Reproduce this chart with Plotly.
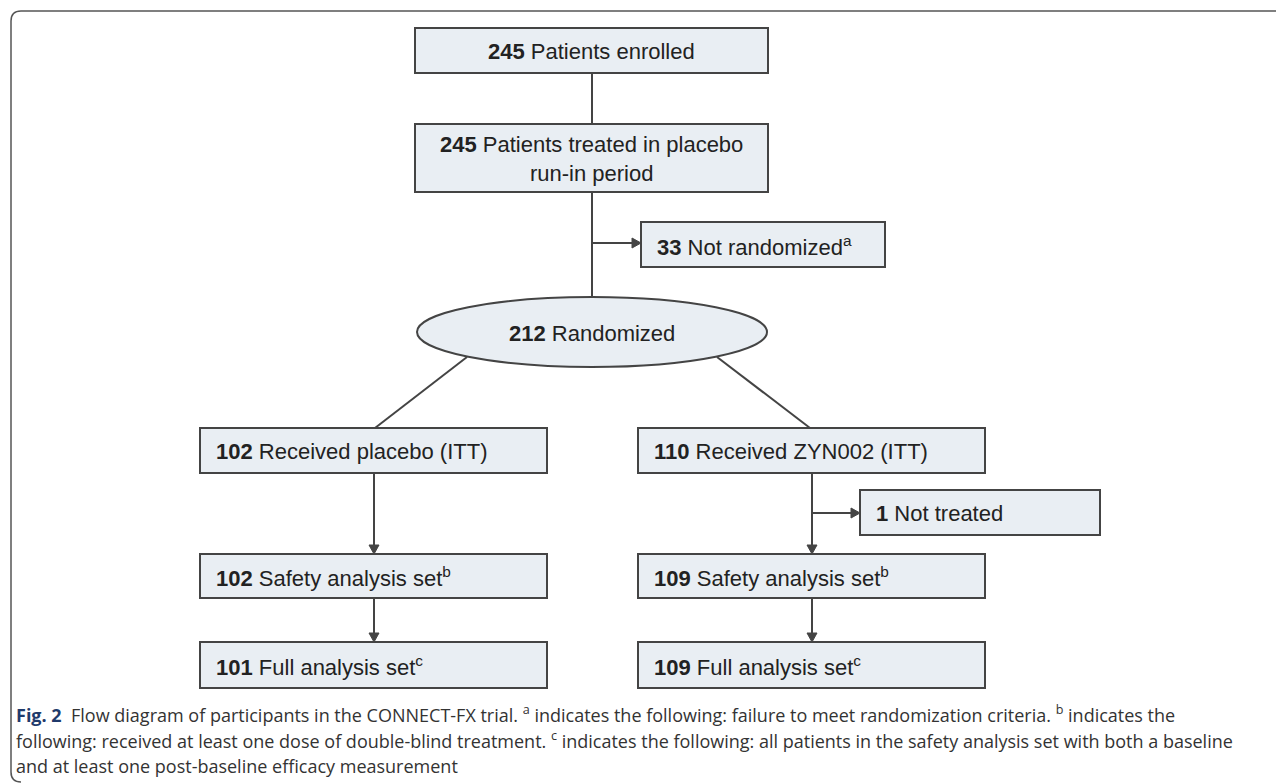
import plotly.graph_objects as go

# ---- data (counts and labels) ----
counts = [245, 245, 33, 212, 102, 110, 1, 102, 109, 101, 109]
labels = ["Patients enrolled",
          "Patients treated in placebo<br>run-in period",
          "Not randomized<sup>a</sup>",
          "Randomized",
          "Received placebo (ITT)",
          "Received ZYN002 (ITT)",
          "Not treated",
          "Safety analysis set<sup>b</sup>",
          "Safety analysis set<sup>b</sup>",
          "Full analysis set<sup>c</sup>",
          "Full analysis set<sup>c</sup>"]
caption_lines = [
    "<b><span style='color:#1f3a6b'>Fig. 2</span></b>  Flow diagram of participants in the CONNECT-FX trial. <sup>a</sup> indicates the following: failure to meet randomization criteria. <sup>b</sup> indicates the",
    "following: received at least one dose of double-blind treatment. <sup>c</sup> indicates the following: all patients in the safety analysis set with both a baseline",
    "and at least one post-baseline efficacy measurement",
]

# ---- layout geometry (page pixel coordinates) ----
# node: (x0, y0, x1, y1, shape, text_align)
nodes = [
    (415, 28, 768, 73, "rect", "center"),
    (415, 124, 768, 192, "rect", "center"),
    (641, 222, 885, 267, "rect", "left"),
    (417, 297, 767, 367, "ellipse", "center"),
    (200, 428, 547, 473, "rect", "left"),
    (638, 428, 985, 473, "rect", "left"),
    (860, 490, 1100, 535, "rect", "left"),
    (200, 554, 547, 598, "rect", "left"),
    (638, 554, 985, 598, "rect", "left"),
    (200, 642, 547, 688, "rect", "left"),
    (638, 642, 985, 688, "rect", "left"),
]
# connectors: (x0, y0, x1, y1, arrow)
connectors = [
    (592, 73, 592, 124, False),
    (592, 192, 592, 297, False),
    (592, 243, 641, 243, True),
    (467, 357, 375, 428, False),
    (717, 357, 810, 428, False),
    (374, 473, 374, 554, True),
    (374, 598, 374, 642, True),
    (812, 473, 812, 554, True),
    (812, 513, 860, 513, True),
    (812, 598, 812, 642, True),
]

LINE = "#444444"
FILL = "#e9eef3"
TXT = "#222222"
W, H = 1284, 784
OFF = 8  # page body margin

fig = go.Figure()
shapes = []
annotations = []

# outer frame with rounded left corners
shapes.append(dict(type="path",
                   path="M 1290,11 L 21,11 Q 11,11 11,21 L 11,772 Q 11,782 21,782",
                   line=dict(color="#555555", width=1.5), xref="x", yref="y"))

BOXFONT = dict(family="Liberation Sans, Arial", size=22, color=TXT)

for (x0, y0, x1, y1, kind, align), c, lab in zip(nodes, counts, labels):
    shapes.append(dict(type="rect" if kind == "rect" else "circle",
                       x0=x0, y0=y0, x1=x1, y1=y1,
                       line=dict(color=LINE, width=2), fillcolor=FILL,
                       xref="x", yref="y", layer="below"))
    text = f"<b>{c}</b> {lab}"
    if align == "center":
        annotations.append(dict(x=(x0 + x1) / 2, y=(y0 + y1) / 2 + 1, text=text,
                                showarrow=False, xanchor="center", yanchor="middle",
                                align="center", font=BOXFONT))
    else:
        annotations.append(dict(x=x0 + 14, y=(y0 + y1) / 2 + 1, text=text,
                                showarrow=False, xanchor="left", yanchor="middle",
                                align="left", font=BOXFONT))

for (x0, y0, x1, y1, arrow) in connectors:
    if arrow:
        L = 9.0
        hw = 5.0
        dx, dy = x1 - x0, y1 - y0
        n = (dx * dx + dy * dy) ** 0.5
        ux, uy = dx / n, dy / n
        bx, by = x1 - ux * L, y1 - uy * L
        px, py = -uy, ux
        shapes.append(dict(type="line", x0=x0, y0=y0, x1=bx, y1=by,
                           line=dict(color=LINE, width=2), xref="x", yref="y"))
        path = (f"M {x1},{y1} L {bx + px * hw},{by + py * hw} "
                f"L {bx - px * hw},{by - py * hw} Z")
        shapes.append(dict(type="path", path=path, fillcolor=LINE,
                           line=dict(color=LINE, width=1), xref="x", yref="y"))
    else:
        shapes.append(dict(type="line", x0=x0, y0=y0, x1=x1, y1=y1,
                           line=dict(color=LINE, width=2), xref="x", yref="y",
                           layer="below"))

cap_y = [714, 740, 766]
for t, yy in zip(caption_lines, cap_y):
    annotations.append(dict(x=14, y=yy, text=t, showarrow=False,
                            xanchor="left", yanchor="middle", align="left",
                            font=dict(family="Open Sans", size=18, color="#333333")))

fig.update_layout(
    width=W - OFF, height=H - OFF,
    margin=dict(l=0, r=0, t=0, b=0),
    paper_bgcolor="white", plot_bgcolor="white",
    xaxis=dict(range=[OFF, W], visible=False, fixedrange=True),
    yaxis=dict(range=[H, OFF], visible=False, fixedrange=True),
    shapes=shapes, annotations=annotations,
    showlegend=False,
)
fig.write_html("out.html")
